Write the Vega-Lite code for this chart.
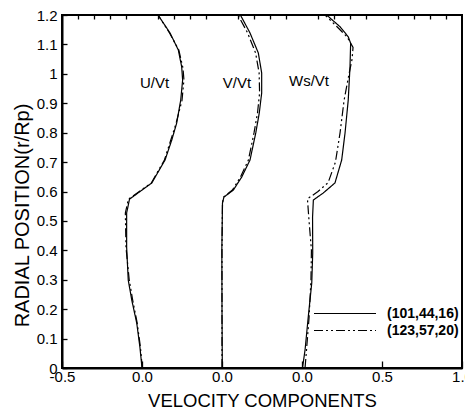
{
  "$schema": "https://vega.github.io/schema/vega-lite/v6.json",
  "width": 400,
  "height": 353,
  "autosize": {"type": "none"},
  "padding": {"left": 62, "top": 15, "right": 3, "bottom": 44},
  "background": "white",
  "config": {
    "font": "Liberation Sans",
    "view": {"stroke": "#000", "strokeWidth": 2},
    "axis": {"domainColor": "#000", "domainWidth": 2, "tickColor": "#000", "tickWidth": 1.3, "grid": false, "labelColor": "#000", "titleColor": "#000", "labelFontSize": 15, "titleFontSize": 18.5, "titleFontWeight": "normal", "labelFont": "Liberation Sans", "titleFont": "Liberation Sans"},
    "legend": {"orient": "none", "legendX": 251, "legendY": 290, "padding": 0, "symbolType": "stroke", "symbolSize": 3844, "symbolStrokeColor": "#000", "symbolStrokeWidth": 1.2, "labelFont": "Liberation Sans", "labelFontWeight": "bold", "labelFontSize": 14, "labelColor": "#000", "labelOffset": 10, "clipHeight": 17, "rowPadding": 0, "title": null}
  },
  "datasets": {
    "U": [
      {"case": "(101,44,16)", "r": 1.2, "v": 0.1},
      {"case": "(101,44,16)", "r": 1.139, "v": 0.175},
      {"case": "(101,44,16)", "r": 1.081, "v": 0.227},
      {"case": "(101,44,16)", "r": 1.024, "v": 0.248},
      {"case": "(101,44,16)", "r": 0.979, "v": 0.254},
      {"case": "(101,44,16)", "r": 0.911, "v": 0.242},
      {"case": "(101,44,16)", "r": 0.833, "v": 0.217},
      {"case": "(101,44,16)", "r": 0.775, "v": 0.186},
      {"case": "(101,44,16)", "r": 0.707, "v": 0.144},
      {"case": "(101,44,16)", "r": 0.629, "v": 0.061},
      {"case": "(101,44,16)", "r": 0.574, "v": -0.078},
      {"case": "(101,44,16)", "r": 0.527, "v": -0.096},
      {"case": "(101,44,16)", "r": 0.411, "v": -0.096},
      {"case": "(101,44,16)", "r": 0.299, "v": -0.086},
      {"case": "(101,44,16)", "r": 0.231, "v": -0.064},
      {"case": "(101,44,16)", "r": 0.153, "v": -0.033},
      {"case": "(101,44,16)", "r": 0.071, "v": -0.013},
      {"case": "(101,44,16)", "r": 0.0, "v": 0.0},
      {"case": "(123,57,20)", "r": 1.2, "v": 0.1},
      {"case": "(123,57,20)", "r": 1.139, "v": 0.172},
      {"case": "(123,57,20)", "r": 1.081, "v": 0.23},
      {"case": "(123,57,20)", "r": 1.02, "v": 0.256},
      {"case": "(123,57,20)", "r": 0.98, "v": 0.262},
      {"case": "(123,57,20)", "r": 0.91, "v": 0.25},
      {"case": "(123,57,20)", "r": 0.83, "v": 0.212},
      {"case": "(123,57,20)", "r": 0.775, "v": 0.18},
      {"case": "(123,57,20)", "r": 0.707, "v": 0.14},
      {"case": "(123,57,20)", "r": 0.629, "v": 0.058},
      {"case": "(123,57,20)", "r": 0.574, "v": -0.085},
      {"case": "(123,57,20)", "r": 0.527, "v": -0.104},
      {"case": "(123,57,20)", "r": 0.41, "v": -0.1},
      {"case": "(123,57,20)", "r": 0.3, "v": -0.08},
      {"case": "(123,57,20)", "r": 0.23, "v": -0.058},
      {"case": "(123,57,20)", "r": 0.153, "v": -0.03},
      {"case": "(123,57,20)", "r": 0.071, "v": -0.01},
      {"case": "(123,57,20)", "r": 0.0, "v": 0.002}
    ],
    "V": [
      {"case": "(101,44,16)", "r": 1.2, "v": 0.115},
      {"case": "(101,44,16)", "r": 1.139, "v": 0.175},
      {"case": "(101,44,16)", "r": 1.071, "v": 0.227},
      {"case": "(101,44,16)", "r": 1.003, "v": 0.248},
      {"case": "(101,44,16)", "r": 0.935, "v": 0.248},
      {"case": "(101,44,16)", "r": 0.867, "v": 0.233},
      {"case": "(101,44,16)", "r": 0.799, "v": 0.211},
      {"case": "(101,44,16)", "r": 0.707, "v": 0.175},
      {"case": "(101,44,16)", "r": 0.649, "v": 0.123},
      {"case": "(101,44,16)", "r": 0.605, "v": 0.071},
      {"case": "(101,44,16)", "r": 0.581, "v": 0.012},
      {"case": "(101,44,16)", "r": 0.561, "v": 0.003},
      {"case": "(101,44,16)", "r": 0.4, "v": -0.001},
      {"case": "(101,44,16)", "r": 0.2, "v": 0.0},
      {"case": "(101,44,16)", "r": 0.0, "v": 0.002},
      {"case": "(123,57,20)", "r": 1.2, "v": 0.1},
      {"case": "(123,57,20)", "r": 1.139, "v": 0.16},
      {"case": "(123,57,20)", "r": 1.071, "v": 0.21},
      {"case": "(123,57,20)", "r": 1.003, "v": 0.232},
      {"case": "(123,57,20)", "r": 0.935, "v": 0.235},
      {"case": "(123,57,20)", "r": 0.867, "v": 0.222},
      {"case": "(123,57,20)", "r": 0.799, "v": 0.2},
      {"case": "(123,57,20)", "r": 0.707, "v": 0.165},
      {"case": "(123,57,20)", "r": 0.649, "v": 0.115},
      {"case": "(123,57,20)", "r": 0.605, "v": 0.065},
      {"case": "(123,57,20)", "r": 0.581, "v": 0.01},
      {"case": "(123,57,20)", "r": 0.561, "v": 0.003},
      {"case": "(123,57,20)", "r": 0.4, "v": 0.0},
      {"case": "(123,57,20)", "r": 0.0, "v": 0.0}
    ],
    "W": [
      {"case": "(101,44,16)", "r": 1.2, "v": 0.154},
      {"case": "(101,44,16)", "r": 1.16, "v": 0.238},
      {"case": "(101,44,16)", "r": 1.126, "v": 0.289},
      {"case": "(101,44,16)", "r": 1.104, "v": 0.304},
      {"case": "(101,44,16)", "r": 1.024, "v": 0.3},
      {"case": "(101,44,16)", "r": 0.911, "v": 0.289},
      {"case": "(101,44,16)", "r": 0.799, "v": 0.269},
      {"case": "(101,44,16)", "r": 0.707, "v": 0.248},
      {"case": "(101,44,16)", "r": 0.629, "v": 0.206},
      {"case": "(101,44,16)", "r": 0.595, "v": 0.133},
      {"case": "(101,44,16)", "r": 0.571, "v": 0.071},
      {"case": "(101,44,16)", "r": 0.513, "v": 0.066},
      {"case": "(101,44,16)", "r": 0.391, "v": 0.067},
      {"case": "(101,44,16)", "r": 0.289, "v": 0.061},
      {"case": "(101,44,16)", "r": 0.173, "v": 0.039},
      {"case": "(101,44,16)", "r": 0.061, "v": 0.019},
      {"case": "(101,44,16)", "r": 0.0, "v": 0.003},
      {"case": "(123,57,20)", "r": 1.2, "v": 0.144},
      {"case": "(123,57,20)", "r": 1.16, "v": 0.219},
      {"case": "(123,57,20)", "r": 1.126, "v": 0.281},
      {"case": "(123,57,20)", "r": 1.09, "v": 0.319},
      {"case": "(123,57,20)", "r": 1.05, "v": 0.313},
      {"case": "(123,57,20)", "r": 1.0, "v": 0.294},
      {"case": "(123,57,20)", "r": 0.91, "v": 0.263},
      {"case": "(123,57,20)", "r": 0.8, "v": 0.238},
      {"case": "(123,57,20)", "r": 0.7, "v": 0.209},
      {"case": "(123,57,20)", "r": 0.63, "v": 0.163},
      {"case": "(123,57,20)", "r": 0.6, "v": 0.1},
      {"case": "(123,57,20)", "r": 0.575, "v": 0.034},
      {"case": "(123,57,20)", "r": 0.5, "v": 0.044},
      {"case": "(123,57,20)", "r": 0.4, "v": 0.059},
      {"case": "(123,57,20)", "r": 0.3, "v": 0.056},
      {"case": "(123,57,20)", "r": 0.17, "v": 0.044},
      {"case": "(123,57,20)", "r": 0.06, "v": 0.028},
      {"case": "(123,57,20)", "r": 0.0, "v": 0.019}
    ],
    "UL": [{"label": "U/Vt", "v": 0.078, "r": 0.97}],
    "VL": [{"label": "V/Vt", "v": 0.094, "r": 0.97}],
    "WL": [{"label": "Ws/Vt", "v": 0.044, "r": 0.976}]
  },
  "encoding": {
    "y": {"field": "r", "type": "quantitative",
      "scale": {"domain": [0, 1.2], "nice": false, "zero": false},
      "axis": {"title": "RADIAL POSITION(r/Rp)", "titleFontSize": 20, "titleX": -30, "titleY": 200, "values": [0, 0.1, 0.2, 0.3, 0.4, 0.5, 0.6, 0.7, 0.8, 0.9, 1, 1.1, 1.2], "tickSize": -5, "labelPadding": 10, "labelExpr": "datum.value == 0 ? '0' : datum.value == 1 ? '1' : format(datum.value, '.1f')", "labelOverlap": false, "labelFlush": false, "labelBound": false}}
  },
  "resolve": {"scale": {"x": "independent"}, "axis": {"x": "independent"}},
  "layer": [
    {
      "resolve": {"axis": {"x": "independent"}},
      "layer": [
        {
          "data": {"name": "U"},
          "mark": {"type": "line", "color": "#000", "strokeWidth": 1.2},
          "encoding": {
            "x": {"field": "v", "type": "quantitative", "scale": {"domain": [-0.5, 2.0], "nice": false, "zero": false},
              "axis": {"title": "VELOCITY COMPONENTS", "titlePadding": 7, "values": [-0.5, 0, 0.5, 1.0, 1.5, 2.0], "tickSize": -7, "labelPadding": 8, "labelOverlap": false, "labelFlush": false, "labelBound": false,
                "labelExpr": "datum.value < -0.25 ? '-0.5' : datum.value < 1.25 ? '0.0' : datum.value < 1.75 ? '0.5' : '1.0'"}},
            "strokeDash": {"field": "case", "type": "nominal", "scale": {"domain": ["(101,44,16)", "(123,57,20)"], "range": [[1, 0], [9, 3, 2, 3, 2, 3]]}, "legend": {"title": null}},
            "order": {"field": "r", "type": "quantitative"}
          }
        },
        {
          "data": {"name": "UL"},
          "mark": {"type": "text", "fontSize": 15, "font": "Liberation Sans", "color": "#000"},
          "encoding": {
            "x": {"field": "v", "type": "quantitative",
              "axis": {"title": null, "labels": false, "domain": false, "values": [-0.4, -0.3, -0.2, -0.1, 0.1, 0.2, 0.3, 0.4, 0.6, 0.7, 0.8, 0.9, 1.1, 1.2, 1.3, 1.4, 1.6, 1.7, 1.8, 1.9], "tickSize": -4}},
            "text": {"field": "label"}
          }
        }
      ]
    },
    {
      "layer": [
        {
          "data": {"name": "V"},
          "mark": {"type": "line", "color": "#000", "strokeWidth": 1.2},
          "encoding": {
            "x": {"field": "v", "type": "quantitative", "scale": {"domain": [-1.0, 1.5], "nice": false, "zero": false}, "axis": null},
            "strokeDash": {"field": "case", "type": "nominal", "scale": {"domain": ["(101,44,16)", "(123,57,20)"], "range": [[1, 0], [9, 3, 2, 3, 2, 3]]}, "legend": {"title": null}},
            "order": {"field": "r", "type": "quantitative"}
          }
        },
        {
          "data": {"name": "VL"},
          "mark": {"type": "text", "fontSize": 15, "font": "Liberation Sans", "color": "#000"},
          "encoding": {
            "x": {"field": "v", "type": "quantitative", "axis": null},
            "text": {"field": "label"}
          }
        }
      ]
    },
    {
      "layer": [
        {
          "data": {"name": "W"},
          "mark": {"type": "line", "color": "#000", "strokeWidth": 1.2},
          "encoding": {
            "x": {"field": "v", "type": "quantitative", "scale": {"domain": [-1.5, 1.0], "nice": false, "zero": false}, "axis": null},
            "strokeDash": {"field": "case", "type": "nominal", "scale": {"domain": ["(101,44,16)", "(123,57,20)"], "range": [[1, 0], [9, 3, 2, 3, 2, 3]]}, "legend": {"title": null}},
            "order": {"field": "r", "type": "quantitative"}
          }
        },
        {
          "data": {"name": "WL"},
          "mark": {"type": "text", "fontSize": 15, "font": "Liberation Sans", "color": "#000"},
          "encoding": {
            "x": {"field": "v", "type": "quantitative", "axis": null},
            "text": {"field": "label"}
          }
        }
      ]
    }
  ]
}
